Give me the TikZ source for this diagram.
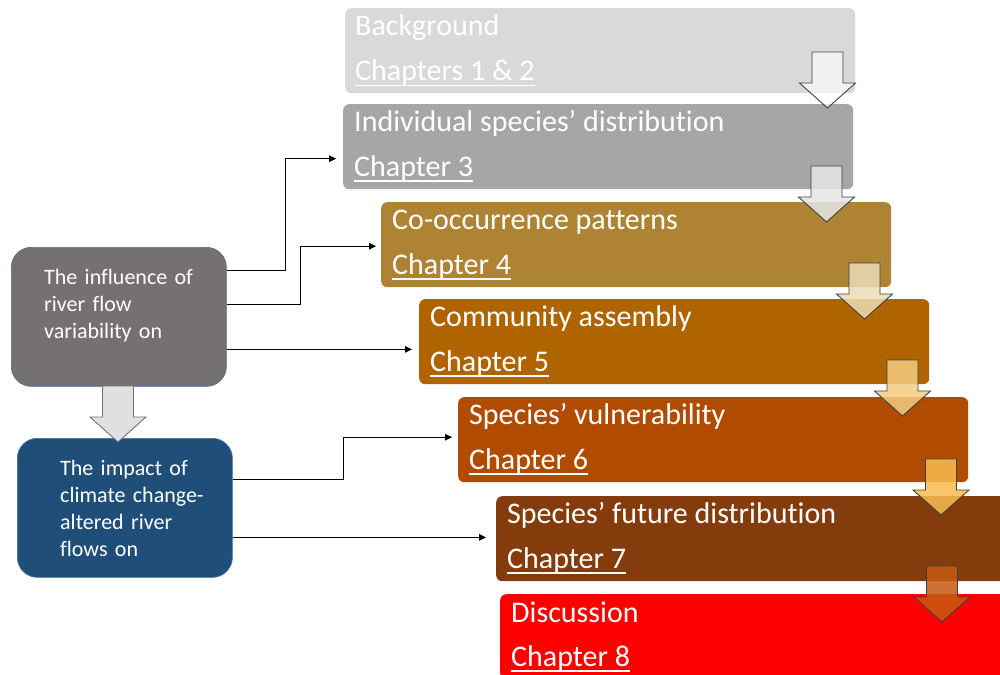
\documentclass[tikz,border=0pt]{standalone}
\usepackage{fontspec}
\setmainfont{Carlito}[Ligatures=NoCommon]
\usetikzlibrary{calc,arrows.meta}

\definecolor{bgbox}{HTML}{D9D9D9}
\definecolor{indbox}{HTML}{A6A6A6}
\definecolor{coobox}{HTML}{AE8333}
\definecolor{combox}{HTML}{AF6400}
\definecolor{vulbox}{HTML}{B04B00}
\definecolor{futbox}{HTML}{843C0C}
\definecolor{disbox}{HTML}{FF0000}
\definecolor{flowbox}{HTML}{767171}
\definecolor{climbox}{HTML}{1F4E79}
\definecolor{boxedge}{HTML}{41719C}
\definecolor{arA}{HTML}{FFFFFF}
\definecolor{arB}{HTML}{E6E6E6}
\definecolor{arC}{HTML}{ECDCB7}
\definecolor{arD}{HTML}{F5CC80}
\definecolor{arE}{HTML}{F8BD4F}
\definecolor{arF}{HTML}{C55A11}

% underline at a fixed depth below the baseline
\newsavebox\chapulbox
\newcommand{\chapul}[1]{\sbox\chapulbox{#1}\rlap{\rule[-6pt]{\wd\chapulbox}{1.7pt}}\usebox\chapulbox}

% broad downward block arrow: centre x, top y, style
\newcommand{\downblock}[3]{%
  \filldraw[#3] (#1-15.5,#2) -- (#1+15.5,#2) -- (#1+15.5,#2+31) -- (#1+28,#2+31)
    -- (#1,#2+56) -- (#1-28,#2+31) -- (#1-15.5,#2+31) -- cycle;}

\tikzset{
  chbox/.style={anchor=north west, minimum width=510pt, minimum height=85pt,
    inner sep=0pt, rounded corners=6pt, draw=none},
  ttl/.style={anchor=base west, inner sep=0pt, text=white,
    font=\fontsize{30}{36}\selectfont},
  srcbox/.style={anchor=north west, minimum width=215pt, minimum height=139pt,
    inner sep=0pt, rounded corners=20pt, draw=boxedge, line width=0.7pt},
  srctxt/.style={anchor=base west, inner sep=0pt, text=white, align=left,
    text width=190pt, font=\fontsize{22}{27}\selectfont},
  conn/.style={line width=1.3pt, -{Triangle[length=7pt,width=6.5pt]}},
  blk/.style={draw=black!75, line width=0.9pt, fill opacity=0.85},
}

\begin{document}
\begin{tikzpicture}[x=1pt,y=-1pt]
\useasboundingbox (0,0) rectangle (1000,674);
\clip (0,0) rectangle (1000,674);
\fill[white] (0,0) rectangle (1000,674);

% chapter boxes
\node[chbox, fill=bgbox]  (ch1) at (345,8)   {};
\node[chbox, fill=indbox] (ch3) at (343,104) {};
\node[chbox, fill=coobox] (ch4) at (381,202) {};
\node[chbox, fill=combox] (ch5) at (419,299) {};
\node[chbox, fill=vulbox] (ch6) at (458,397) {};
\node[chbox, fill=futbox] (ch7) at (496,496) {};
\node[chbox, fill=disbox] (ch8) at (500,594) {};

\node[ttl] (t1a) at ($(ch1.north west)+(10,28)$) {Background};
\node[ttl] (t1b) at ($(ch1.north west)+(10,72.5)$) {\chapul{Chapters 1 \& 2}};
\node[ttl] (t3a) at ($(ch3.north west)+(11,27.5)$) {Individual species’ distribution};
\node[ttl] (t3b) at ($(ch3.north west)+(11,72)$) {\chapul{Chapter 3}};
\node[ttl] (t4a) at ($(ch4.north west)+(11,27.5)$) {Co-occurrence patterns};
\node[ttl] (t4b) at ($(ch4.north west)+(11,72)$) {\chapul{Chapter 4}};
\node[ttl] (t5a) at ($(ch5.north west)+(11,27.5)$) {Community assembly};
\node[ttl] (t5b) at ($(ch5.north west)+(11,72)$) {\chapul{Chapter 5}};
\node[ttl] (t6a) at ($(ch6.north west)+(11,27.5)$) {Species’ vulnerability};
\node[ttl] (t6b) at ($(ch6.north west)+(11,72)$) {\chapul{Chapter 6}};
\node[ttl] (t7a) at ($(ch7.north west)+(11,27.5)$) {Species’ future distribution};
\node[ttl] (t7b) at ($(ch7.north west)+(11,72)$) {\chapul{Chapter 7}};
\node[ttl] (t8a) at ($(ch8.north west)+(11,28.5)$) {Discussion};
\node[ttl] (t8b) at ($(ch8.north west)+(11,72)$) {\chapul{Chapter 8}};

% driver boxes on the left
\node[srcbox, fill=flowbox] (flow) at (11,247) {};
\node[srcbox, fill=climbox] (clim) at (17,438) {};
\node[srctxt] (flowtxt) at ($(flow.north west)+(33,37)$)
  {The influence of\\river flow\\variability on};
\node[srctxt] (climtxt) at ($(clim.north west)+(43,37.5)$)
  {The impact of\\climate change-\\altered river\\flows on};

% connectors
\coordinate (c1s) at ($(flow.east)+(0,-46.5)$);
\coordinate (c1e) at ($(ch3.west)+(-7,12)$);
\coordinate (c2s) at ($(flow.east)+(0,-12.5)$);
\coordinate (c2e) at ($(ch4.west)+(-5,1.5)$);
\coordinate (c3s) at ($(flow.east)+(0,32.5)$);
\coordinate (c3e) at ($(ch5.west)+(-7,0)$);
\coordinate (c4s) at ($(clim.east)+(0,-28.5)$);
\coordinate (c4e) at ($(ch6.west)+(-6,-2.5)$);
\coordinate (c5s) at ($(clim.east)+(0,29.5)$);
\coordinate (c5e) at ($(ch7.west)+(-10,0)$);

\draw[conn] (c1s) -- ++(59,0) |- (c1e);
\draw[conn] (c2s) -- ++(74,0) |- (c2e);
\draw[conn] (c3s) -- (c3s -| c3e);
\draw[conn] (c4s) -- ++(111,0) |- (c4e);
\draw[conn] (c5s) -- (c5s -| c5e);

% block arrows between chapters
\downblock{827.5}{52}{blk, fill=arA, fill opacity=0.65}
\downblock{826.5}{166}{blk, fill=arB}
\downblock{864.5}{263}{blk, fill=arC}
\downblock{902.5}{360}{blk, fill=arD}
\downblock{941}{459}{blk, fill=arE}
\downblock{942}{566}{blk, fill=arF}
\downblock{118}{386}{draw=black!55, line width=0.9pt, fill=black!12}

\end{tikzpicture}
\end{document}
